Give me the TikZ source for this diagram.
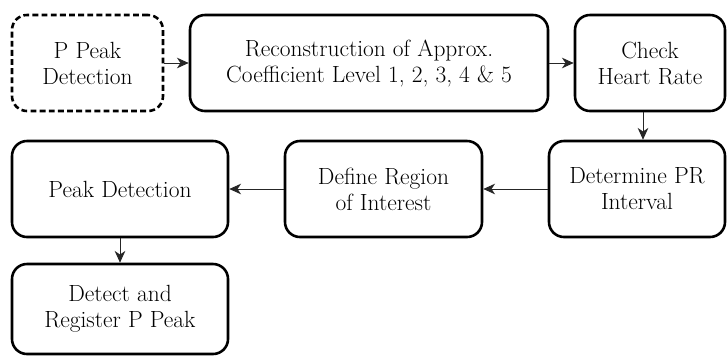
\documentclass[tikz,border=0pt]{standalone}
\usepackage{tikz}
\usetikzlibrary{arrows.meta}

\tikzset{
  stepbox/.style={draw, line width=2.2pt, rounded corners=0.45cm, align=center,
    minimum height=2.88cm, inner sep=0pt,
    font=\fontsize{20}{22.2}\selectfont},
  startbox/.style={stepbox, dashed, dash pattern=on 5pt off 2.8pt},
  flow/.style={-{Stealth[length=10pt,width=9pt,inset=3pt]}, line width=0.8pt, black!85}
}

\begin{document}
\begin{tikzpicture}[x=0.03cm, y=-0.03cm]
\useasboundingbox (0,0) rectangle (727,356);

% top row
\node [startbox, minimum width=4.53cm] (pstart) at (87.5,63) {P Peak\\Detection};
\node [stepbox, minimum width=10.74cm] (recon) at (369,63) {Reconstruction of Approx.\\Coefficient Level 1, 2, 3, 4 \& 5};
\node [stepbox, minimum width=4.5cm] (hrate) at (650,63) {Check\\Heart Rate};

% middle row
\node [stepbox, minimum width=5.28cm] (print) at (637,189) {Determine PR\\Interval};
\node [stepbox, minimum width=5.91cm] (roi) at (383.5,189) {Define Region\\of Interest};
\node [stepbox, minimum width=6.48cm] (pdet) at (120,189) {Peak Detection};

% bottom row
\node [stepbox, minimum width=6.48cm, minimum height=2.7cm] (preg) at (120,309) {Detect and\\Register P Peak};

\coordinate (down) at (643,0);

\draw [flow] (pstart) -- (recon);
\draw [flow] (recon) -- (hrate);
\draw [flow] (hrate.south -| down) -- (print.north -| down);
\draw [flow] (print) -- (roi);
\draw [flow] (roi) -- (pdet);
\draw [flow] (pdet) -- (preg);

\end{tikzpicture}
\end{document}
